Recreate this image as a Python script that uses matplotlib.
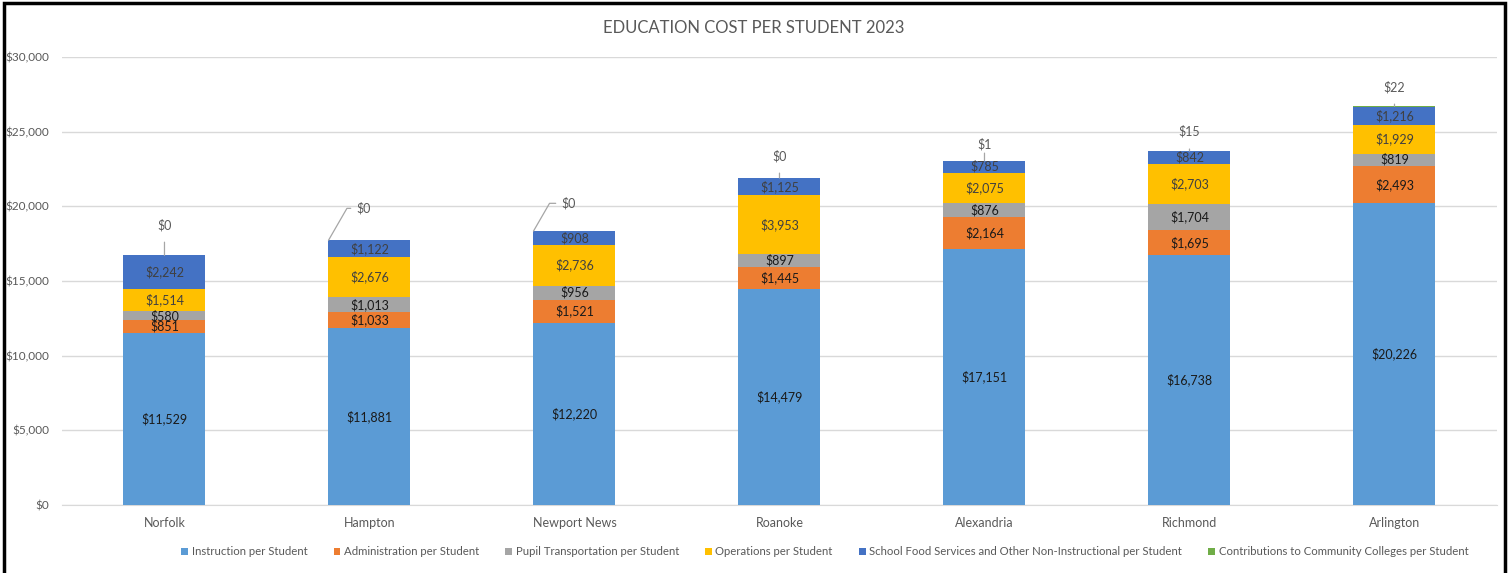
import numpy as np
import matplotlib.pyplot as plt
from matplotlib.patches import Rectangle
from matplotlib.ticker import FuncFormatter

plt.rcParams['font.family'] = ['Lato', 'DejaVu Sans']

cities = ["Norfolk", "Hampton", "Newport News", "Roanoke", "Alexandria", "Richmond", "Arlington"]
instruction = [11529, 11881, 12220, 14479, 17151, 16738, 20226]
administration = [851, 1033, 1521, 1445, 2164, 1695, 2493]
transportation = [580, 1013, 956, 897, 876, 1704, 819]
operations = [1514, 2676, 2736, 3953, 2075, 2703, 1929]
food_services = [2242, 1122, 908, 1125, 785, 842, 1216]
contributions = [0, 0, 0, 0, 1, 15, 22]

series = [
    ("Instruction per Student", instruction, "#5B9BD5", "#1a1a1a"),
    ("Administration per Student", administration, "#ED7D31", "#1a1a1a"),
    ("Pupil Transportation per Student", transportation, "#A5A5A5", "#1a1a1a"),
    ("Operations per Student", operations, "#FFC000", "#404040"),
    ("School Food Services and Other Non-Instructional per Student", food_services, "#4472C4", "#404040"),
    ("Contributions to Community Colleges per Student", contributions, "#70AD47", "#595959"),
]

# how far (points) the outside labels sit above each bar
label_lift = [22, 23, 20, 16, 12, 14, 14]

fig = plt.figure(figsize=(15.08, 5.73), dpi=100)
ax = fig.add_axes([0.0411, 0.1187, 0.9516, 0.7818])

x = np.arange(len(cities))
width = 0.4
bottom = np.zeros(len(cities))
handles = []
for name, vals, color, tcolor in series:
    vals = np.array(vals, dtype=float)
    bars = ax.bar(x, vals, width, bottom=bottom, color=color, label=name, zorder=3)
    handles.append(bars)
    if name.startswith("Contributions"):
        for i, (v, b) in enumerate(zip(vals, bottom)):
            top = b + v
            lab = f"${int(v):,}"
            if cities[i] in ("Hampton", "Newport News"):
                ax.annotate(lab, xy=(x[i] - width / 2, top), xytext=(20, label_lift[i]),
                            textcoords="offset points", ha="left", va="center",
                            fontsize=9, color=tcolor,
                            arrowprops=dict(arrowstyle="-", color="#A6A6A6", lw=0.9,
                                            shrinkA=2, shrinkB=0,
                                            connectionstyle="angle,angleA=180,angleB=60,rad=0"))
            else:
                ax.annotate(lab, xy=(x[i], top), xytext=(0, label_lift[i]),
                            textcoords="offset points", ha="center", va="center",
                            fontsize=9, color=tcolor,
                            arrowprops=dict(arrowstyle="-", color="#A6A6A6", lw=0.9,
                                            shrinkA=6, shrinkB=0))
    else:
        for i, (v, b) in enumerate(zip(vals, bottom)):
            ax.text(x[i], b + v / 2, f"${int(v):,}", ha="center", va="center",
                    fontsize=9, color=tcolor, zorder=4)
    bottom = bottom + vals

ax.set_xlim(-0.5, len(cities) - 0.5)
ax.set_ylim(0, 30000)
ax.set_yticks(np.arange(0, 30001, 5000))
ax.yaxis.set_major_formatter(FuncFormatter(lambda v, p: f"${int(v):,}"))
ax.set_xticks(x)
ax.set_xticklabels(cities)
ax.tick_params(axis="both", length=0, labelsize=9, labelcolor="#595959")
ax.tick_params(axis="y", labelsize=8.5, pad=9)
ax.tick_params(axis="x", pad=9)
ax.grid(axis="y", color="#D9D9D9", lw=1, zorder=0)
for s in ["top", "right", "left"]:
    ax.spines[s].set_visible(False)
ax.spines["bottom"].set_color("#D9D9D9")

fig.text(0.5, 0.951, "EDUCATION COST PER STUDENT 2023", ha="center", va="center",
         fontsize=12, color="#595959")

fig.legend(handles=handles, loc="center", bbox_to_anchor=(0.547, 0.037), ncol=6,
           frameon=False, fontsize=8.2, labelcolor="#595959", handlelength=0.6,
           handleheight=0.6, handletextpad=0.3, columnspacing=2.3)

# black frame around the chart
fig.add_artist(Rectangle((0.0027, -0.02), 0.995, 1.014, transform=fig.transFigure,
                         fill=False, edgecolor="black", lw=2.5))

fig.savefig("out.png", dpi=100)
